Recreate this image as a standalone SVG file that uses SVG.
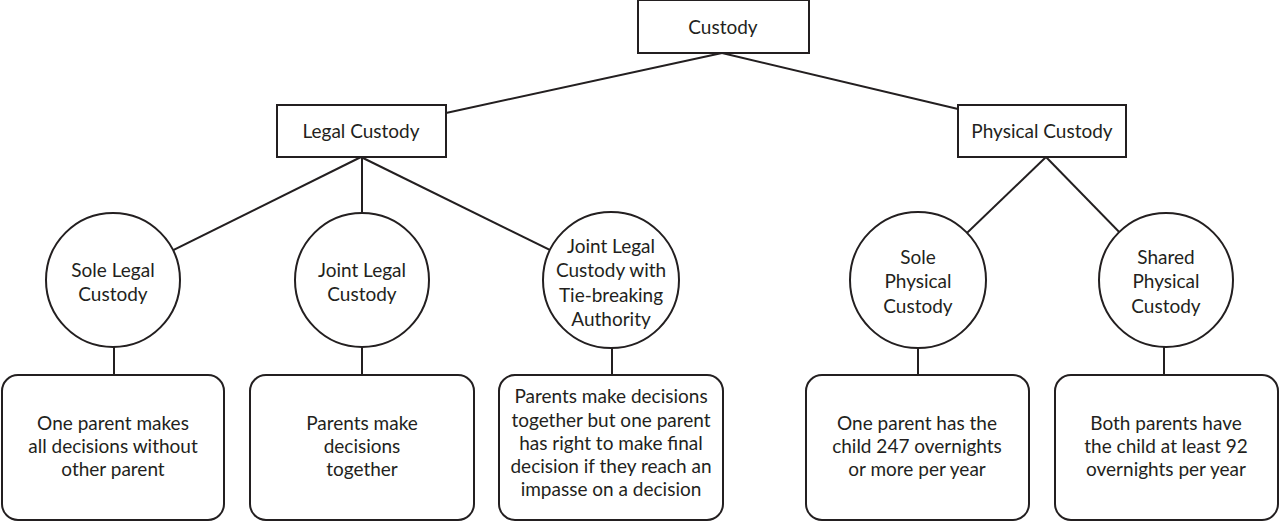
<svg xmlns="http://www.w3.org/2000/svg" width="1280" height="522" viewBox="0 0 1280 522">
<style>
.box{fill:#fff;stroke:#231f20;stroke-width:2}
.ln{stroke:#231f20;stroke-width:2;fill:none}
text{font-family:Lato,"Liberation Sans",sans-serif;font-size:19px;fill:#231f20;text-anchor:middle}
</style>
<rect width="1280" height="522" fill="#fff"/>
<g id="connectors">
<line class="ln" x1="722" y1="53" x2="446" y2="113"/>
<line class="ln" x1="722" y1="53" x2="958" y2="109"/>
<line class="ln" x1="361" y1="157" x2="113" y2="280"/>
<line class="ln" x1="362" y1="157" x2="362" y2="280"/>
<line class="ln" x1="361" y1="157" x2="611" y2="280"/>
<line class="ln" x1="1046" y1="157" x2="918" y2="280"/>
<line class="ln" x1="1046" y1="157" x2="1166" y2="280"/>
<line class="ln" x1="114" y1="330" x2="114" y2="375"/>
<line class="ln" x1="362" y1="330" x2="362" y2="375"/>
<line class="ln" x1="612" y1="330" x2="612" y2="375"/>
<line class="ln" x1="918" y1="330" x2="918" y2="375"/>
<line class="ln" x1="1164" y1="330" x2="1164" y2="375"/>
</g>
<g id="custody"><rect class="box" x="638" y="0" width="171" height="53"/><text x="723" y="34">Custody</text></g>
<g id="legal"><rect class="box" x="277" y="105" width="169" height="52"/><text x="361" y="138">Legal Custody</text></g>
<g id="physical"><rect class="box" x="958" y="105" width="168" height="52"/><text x="1042" y="138">Physical Custody</text></g>
<g id="sole-legal"><circle class="box" cx="113" cy="280" r="67"/><text x="113" y="277">Sole Legal</text><text x="113" y="301">Custody</text></g>
<g id="joint-legal"><circle class="box" cx="362" cy="280" r="67"/><text x="362" y="277">Joint Legal</text><text x="362" y="301">Custody</text></g>
<g id="joint-tie"><circle class="box" cx="611" cy="280" r="68"/><text x="611" y="253">Joint Legal</text><text x="611" y="277">Custody with</text><text x="611" y="302">Tie-breaking</text><text x="611" y="326">Authority</text></g>
<g id="sole-physical"><circle class="box" cx="918" cy="280" r="68"/><text x="918" y="264">Sole</text><text x="918" y="288">Physical</text><text x="918" y="313">Custody</text></g>
<g id="shared-physical"><circle class="box" cx="1166" cy="280" r="67"/><text x="1166" y="264">Shared</text><text x="1166" y="288">Physical</text><text x="1166" y="313">Custody</text></g>
<g id="desc-sole-legal"><rect class="box" x="2" y="375" width="222" height="145" rx="16"/><text x="113" y="430">One parent makes</text><text x="113" y="453">all decisions without</text><text x="113" y="476">other parent</text></g>
<g id="desc-joint-legal"><rect class="box" x="250" y="375" width="224" height="145" rx="16"/><text x="362" y="430">Parents make</text><text x="362" y="453">decisions</text><text x="362" y="476">together</text></g>
<g id="desc-joint-tie"><rect class="box" x="499" y="375" width="224" height="145" rx="16"/><text x="611" y="403">Parents make decisions</text><text x="611" y="427">together but one parent</text><text x="611" y="450">has right to make final</text><text x="611" y="473">decision if they reach an</text><text x="611" y="496">impasse on a decision</text></g>
<g id="desc-sole-physical"><rect class="box" x="806" y="375" width="223" height="145" rx="16"/><text x="917" y="430">One parent has the</text><text x="917" y="453">child 247 overnights</text><text x="917" y="476">or more per year</text></g>
<g id="desc-shared-physical"><rect class="box" x="1055" y="375" width="223" height="145" rx="16"/><text x="1166" y="430">Both parents have</text><text x="1166" y="453">the child at least 92</text><text x="1166" y="476">overnights per year</text></g>
</svg>
